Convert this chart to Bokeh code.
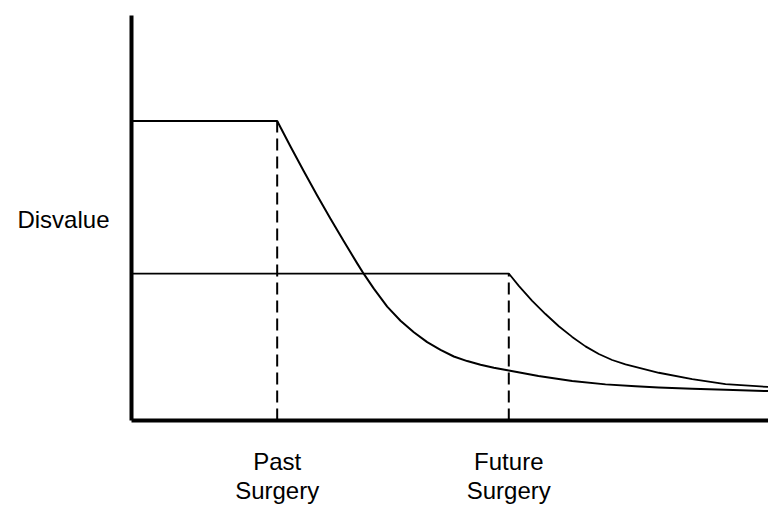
from bokeh.plotting import figure
from bokeh.models import Range1d, FixedTicker
from bokeh.embed import file_html
from bokeh.resources import INLINE

# Past surgery disvalue curve (time, disvalue)
past_x = [0, 22.87, 24.96, 27.05, 29.15, 31.24, 33.33, 35.43, 36.47, 38.04, 40.14, 42.23, 44.32, 46.42,
          48.51, 50.60, 52.70, 54.79, 56.88, 59.23, 63.89, 69.18, 74.41, 79.12, 82.73, 88.02, 93.25, 100]
past_y = [73.96, 73.96, 67.67, 61.55, 55.58, 49.83, 44.25, 38.80, 36.19, 32.56, 28.11, 24.64, 21.79, 19.34,
          17.44, 15.80, 14.67, 13.76, 13.02, 12.36, 11.01, 9.75, 8.92, 8.43, 8.16, 7.86, 7.57, 7.25]

# Future surgery disvalue curve
future_x = [0, 59.23, 60.80, 62.90, 64.99, 67.08, 69.18, 71.27, 73.36, 75.46, 77.55, 80.17, 82.78, 88.02, 93.25, 100]
future_y = [36.29, 36.29, 33.24, 29.56, 26.29, 23.27, 20.64, 18.30, 16.41, 14.94, 13.86, 12.78, 11.79, 10.20, 8.97, 8.28]

# Events on the time axis
event_x = [past_x[1], future_x[1]]
event_y = [past_y[1], future_y[1]]
event_labels = ["Past\nSurgery", "Future\nSurgery"]

y_label_pos = [49.6]
y_label_text = ["Disvalue"]

FONT = "Liberation Sans"

p = figure(width=768, height=507, output_backend="svg", toolbar_location=None,
           x_range=Range1d(0, 100), y_range=Range1d(0, 100),
           min_border_left=131, min_border_right=0, min_border_top=15, min_border_bottom=85)
p.outline_line_color = None
p.xgrid.visible = False
p.ygrid.visible = False
p.background_fill_color = "white"
p.border_fill_color = "white"

# dashed verticals
p.segment(x0=event_x, y0=[0, 0], x1=event_x, y1=event_y,
          line_color="black", line_width=2, line_dash="12 6")

p.line(past_x, past_y, line_color="black", line_width=2, line_join="round")
p.line(future_x, future_y, line_color="black", line_width=1.8, line_join="round")

for ax in (p.xaxis[0], p.yaxis[0]):
    ax.axis_line_width = 4
    ax.axis_line_color = "black"
    ax.major_tick_line_color = None
    ax.minor_tick_line_color = None
    ax.major_tick_out = 0
    ax.major_tick_in = 0
    ax.minor_tick_out = 0
    ax.major_label_text_font = FONT
    ax.major_label_text_font_size = "24px"
    ax.major_label_text_color = "black"

p.xaxis.ticker = FixedTicker(ticks=event_x)
p.xaxis.major_label_overrides = {x: lab for x, lab in zip(event_x, event_labels)}
p.xaxis.major_label_standoff = 27
p.xaxis.major_label_text_line_height = 1.1

p.yaxis.ticker = FixedTicker(ticks=y_label_pos)
p.yaxis.major_label_overrides = {v: lab for v, lab in zip(y_label_pos, y_label_text)}
p.yaxis.major_label_standoff = 22

open("out.html", "w").write(file_html(p, INLINE))
